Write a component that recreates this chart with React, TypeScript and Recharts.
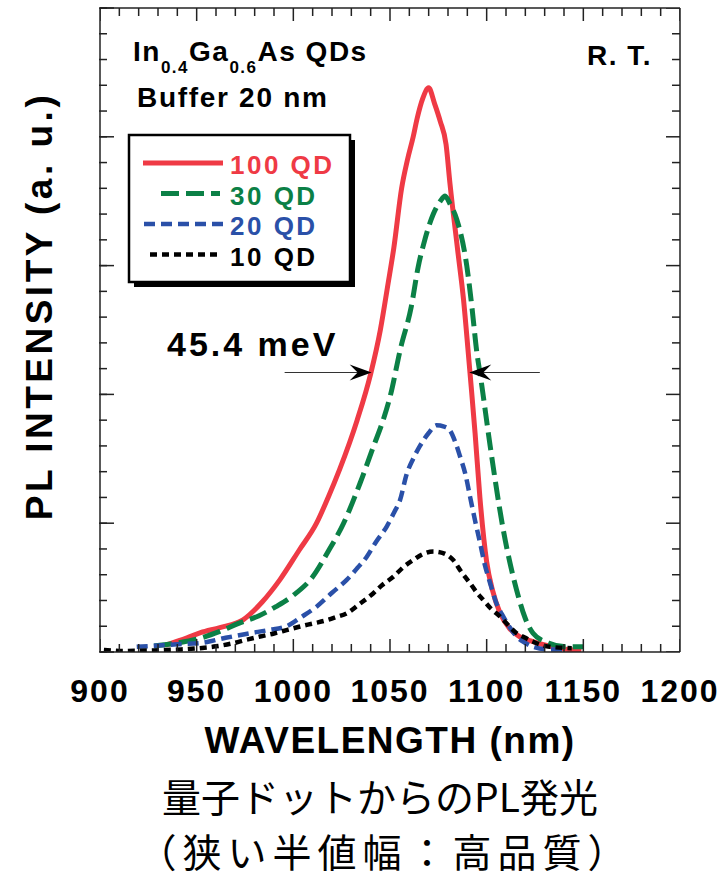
import {
    ComposedChart,
    Customized,
    Legend,
    Line,
    ReferenceLine,
    Scatter,
    XAxis,
    YAxis,
} from "recharts"

const FONT = "'Liberation Sans', Arial, Helvetica, sans-serif"

// tick positions
const xMajorTicks = [900, 950, 1000, 1050, 1100, 1150, 1200]
const xMinorTicks = [
    900, 910, 920, 930, 940, 950, 960, 970, 980, 990, 1000, 1010, 1020, 1030,
    1040, 1050, 1060, 1070, 1080, 1090, 1100, 1110, 1120, 1130, 1140, 1150,
    1160, 1170, 1180, 1190, 1200,
]
const yMajorTicks = [0, 5, 10, 15, 20, 25]
const yMinorTicks = [
    0, 1, 2, 3, 4, 5, 6, 7, 8, 9, 10, 11, 12, 13, 14, 15, 16, 17, 18, 19, 20,
    21, 22, 23, 24, 25,
]

// 100 QD
const qd100Nm = [
    934, 945, 952, 962, 974, 984, 993, 1003, 1012, 1018, 1024, 1033, 1040,
    1045, 1049, 1052, 1056, 1059, 1062, 1064, 1067, 1070, 1073, 1076, 1079,
    1081, 1085, 1088, 1090.5, 1092, 1094, 1096.5, 1100, 1103, 1107, 1112, 1117,
    1124, 1130, 1140, 1149,
]
const qd100Pl = [
    0.27, 0.55, 0.75, 0.95, 1.25, 1.95, 2.8, 3.95, 5.0, 6.0, 7.1, 9.0, 10.8,
    12.5, 14.3, 15.7, 18.0, 19.1, 20.0, 20.7, 21.5, 21.9, 21.3, 20.6, 19.7,
    18.2, 15.6, 13.7, 11.6, 10.3, 8.5, 6.0, 3.5, 2.4, 1.5, 0.9, 0.6, 0.4, 0.27,
    0.12, 0.05,
]

// 30 QD
const qd30Nm = [
    928, 940, 952, 962, 972, 982, 991, 1000, 1010, 1018, 1026, 1034.5, 1041.4,
    1046, 1050, 1055.5, 1061, 1064.6, 1068, 1072.4, 1076, 1078.5, 1081, 1084.5,
    1089.7, 1092.5, 1094.8, 1097, 1101.8, 1108.6, 1115.5, 1120, 1124, 1132,
    1141, 1150,
]
const qd30Pl = [
    0.23, 0.35, 0.54, 0.8, 1.12, 1.4, 1.76, 2.2, 2.92, 3.9, 5.0, 6.55, 7.97,
    8.9, 9.9, 11.8, 13.4, 14.96, 16.0, 17.0, 17.5, 17.7, 17.4, 16.8, 15.0, 13.3,
    11.7, 10.6, 8.0, 4.74, 2.4, 1.3, 0.73, 0.35, 0.2, 0.2,
]

// 20 QD
const qd20Nm = [
    919, 930, 940, 952, 965, 977.6, 987, 996.5, 1004, 1012, 1020, 1027.6, 1033,
    1038, 1043, 1048.3, 1052, 1055.2, 1058.6, 1062, 1065.5, 1070, 1074, 1078,
    1081, 1084, 1086.2, 1089, 1091.4, 1094, 1096.6, 1099, 1101.8, 1105, 1108.6,
    1112, 1115.5, 1120, 1124, 1132, 1140,
]
const qd20Pl = [
    0.2, 0.25, 0.3, 0.35, 0.55, 0.73, 0.85, 1.0, 1.35, 1.76, 2.3, 2.8, 3.25,
    3.7, 4.3, 4.87, 5.4, 5.9, 6.9, 7.5, 8.0, 8.5, 8.8, 8.75, 8.6, 8.1, 7.6, 6.9,
    6.03, 5.1, 4.23, 3.4, 2.67, 1.9, 1.37, 0.95, 0.6, 0.35, 0.2, 0.1, 0.1,
]

// 10 QD
const qd10Nm = [
    902, 912, 920, 928, 934.5, 942, 951.7, 960, 968.8, 976, 982.8, 990, 996.5,
    1003, 1010.3, 1018, 1022, 1027.6, 1034, 1041.4, 1046, 1051.7, 1057, 1062,
    1067, 1072.4, 1077, 1082.7, 1087, 1091.4, 1095, 1098.3, 1102, 1107, 1111,
    1115.5, 1120, 1124, 1132.8, 1144,
]
const qd10Pl = [
    0.08, 0.04, 0.05, 0.06, 0.08, 0.1, 0.15, 0.22, 0.34, 0.48, 0.6, 0.72, 0.85,
    0.98, 1.11, 1.25, 1.35, 1.5, 1.85, 2.28, 2.6, 2.92, 3.3, 3.57, 3.8, 3.9,
    3.85, 3.57, 3.1, 2.67, 2.3, 2.02, 1.7, 1.37, 1.05, 0.73, 0.55, 0.4, 0.2,
    0.15,
]

// FWHM marker: level and arrow start/end wavelengths
const fwhmLevel = 10.85
const fwhmLeftArrow = [995.5, 1040.5]
const fwhmRightArrow = [1127.5, 1091]

const seriesNames = ["100 QD", "30 QD", "20 QD", "10 QD"]

const toPoints = (nm: number[], pl: number[]) =>
    nm.map((w, i) => ({ nm: w, pl: pl[i] }))

const seriesData = [
    toPoints(qd100Nm, qd100Pl),
    toPoints(qd30Nm, qd30Pl),
    toPoints(qd20Nm, qd20Pl),
    toPoints(qd10Nm, qd10Pl),
]

// frame tick anchors on the bottom, top and right edges
const bottomTickPts = xMinorTicks.map((t) => ({ nm: t, pl: 0 }))
const topTickPts = xMinorTicks.map((t) => ({ nm: t, pl: 25 }))
const rightTickPts = yMinorTicks.map((v) => ({ nm: 1200, pl: v }))

const seriesStyle = [
    { color: "#EF3A45", dash: undefined, width: 5, lx: [17, 97] },
    { color: "#0B8046", dash: "18 7", width: 5, lx: [35, 94] },
    { color: "#2A50A8", dash: "11 6", width: 4.5, lx: [18, 97] },
    { color: "#000000", dash: "7 5", width: 4.5, lx: [24, 91] },
]

const AXIS = { stroke: "#222", strokeWidth: 1.5 }
const TICK_COLOR = "#222"

// inward tick mark drawn at the axis edge point (x, y)
const tickMark = (dx: number, dy: number) => (props: any) => {
    const { x, y } = props
    return (
        <line
            x1={x}
            y1={y}
            x2={x + dx}
            y2={y + dy}
            stroke={TICK_COLOR}
            strokeWidth={1.5}
        />
    )
}

// scatter shape: a tick mark pointing into the plot
const frameTick = (dir: "up" | "down" | "left") => (props: any) => {
    const { cx, cy, payload } = props
    if (cx == null || cy == null) return <g />
    let dx = 0
    let dy = 0
    if (dir === "left") {
        dx = yMajorTicks.includes(payload.pl) ? -14 : -8
    } else {
        const len = xMajorTicks.includes(payload.nm) ? 13 : 8
        dy = dir === "up" ? -len : len
    }
    return (
        <line
            x1={cx}
            y1={cy}
            x2={cx + dx}
            y2={cy + dy}
            stroke={TICK_COLOR}
            strokeWidth={1.5}
        />
    )
}

const XTickLabel = (props: any) => {
    const { x, y, payload } = props
    return (
        <text
            x={x}
            y={y + 50}
            textAnchor="middle"
            fontFamily={FONT}
            fontWeight="bold"
            fontSize={32}
            letterSpacing={2}
            fill="#000"
        >
            {payload.value}
        </text>
    )
}

const XTitle = (props: any) => {
    const vb = props.viewBox
    return (
        <text
            x={vb.x + vb.width / 2}
            y={vb.y + 101}
            textAnchor="middle"
            fontFamily={FONT}
            fontWeight="bold"
            fontSize={37}
            letterSpacing={1.5}
            fill="#000"
        >
            WAVELENGTH (nm)
        </text>
    )
}

const YTitle = (props: any) => {
    const vb = props.viewBox
    const cx = vb.x - 47
    const cy = vb.y + vb.height / 2 - 24
    return (
        <text
            x={cx}
            y={cy}
            transform={`rotate(-90 ${cx} ${cy})`}
            textAnchor="middle"
            fontFamily={FONT}
            fontWeight="bold"
            fontSize={37}
            letterSpacing={3.5}
            fill="#000"
        >
            PL INTENSITY (a. u.)
        </text>
    )
}

const Arrow = (props: any) => {
    const { x1, y1, x2, y2 } = props
    const d = x2 > x1 ? 1 : -1
    return (
        <g>
            <line x1={x1} y1={y1} x2={x2 - d * 12} y2={y2} stroke="#333" strokeWidth={1.2} />
            <polygon
                points={`${x2},${y2} ${x2 - d * 22},${y2 - 8} ${x2 - d * 14},${y2} ${x2 - d * 22},${y2 + 8}`}
                fill="#000"
            />
        </g>
    )
}

const LegendBox = () => (
    <svg width={232} height={158}>
        <rect x={8} y={8} width={221} height={147} fill="#000" />
        <rect x={3} y={3} width={221} height={147} fill="#fff" stroke="#000" strokeWidth={2.5} />
        {seriesNames.map((name, i) => {
            const s = seriesStyle[i]
            const ly = 31 + i * 30.5
            return (
                <g key={name}>
                    <line
                        x1={s.lx[0]}
                        x2={s.lx[1]}
                        y1={ly}
                        y2={ly}
                        stroke={s.color}
                        strokeWidth={s.width}
                        strokeDasharray={s.dash}
                    />
                    <text
                        x={104}
                        y={ly + 11}
                        fontFamily={FONT}
                        fontWeight="bold"
                        fontSize={26}
                        letterSpacing={2.5}
                        fill={s.color}
                    >
                        {name}
                    </text>
                </g>
            )
        })}
    </svg>
)

const Annotations = () => (
    <g fontFamily={FONT} fontWeight="bold" fill="#000">
        <text x={133} y={61} fontSize={28} letterSpacing={1.5}>
            In
            <tspan fontSize={17} dy={12}>0.4</tspan>
            <tspan dy={-12}>Ga</tspan>
            <tspan fontSize={17} dy={12}>0.6</tspan>
            <tspan dy={-12}>As QDs</tspan>
        </text>
        <text x={137} y={107} fontSize={28} letterSpacing={1.7}>
            Buffer 20 nm
        </text>
        <text x={587} y={65} fontSize={28} letterSpacing={1.5}>
            R. T.
        </text>
        <text x={167} y={356} fontSize={34} letterSpacing={3}>
            45.4 meV
        </text>
        <text
            x={380}
            y={812}
            textAnchor="middle"
            fontFamily="'Noto Sans CJK JP', sans-serif"
            fontWeight="normal"
            fontSize={39}
        >
            量子ドットからのPL発光
        </text>
        <text
            x={385}
            y={867}
            textAnchor="middle"
            fontFamily="'Noto Sans CJK JP', sans-serif"
            fontWeight="normal"
            fontSize={39}
            letterSpacing={6}
        >
            （狭い半値幅：高品質）
        </text>
    </g>
)

const axisCommon = {
    type: "number" as const,
    allowDataOverflow: true,
    interval: 0 as const,
    tickSize: 0,
    tickMargin: 0,
    tickLine: false,
}

export default function App() {
    return (
        <div
            style={{
                position: "absolute",
                left: 0,
                top: 0,
                width: 727,
                height: 881,
                background: "#fff",
            }}
        >
            <ComposedChart
                width={727}
                height={881}
                margin={{ top: 7, right: 46, bottom: 228, left: 98 }}
            >
                <XAxis
                    {...axisCommon}
                    xAxisId="x"
                    dataKey="nm"
                    domain={[900, 1200]}
                    ticks={xMajorTicks}
                    height={1}
                    tick={<XTickLabel />}
                    axisLine={AXIS}
                    label={{ content: XTitle }}
                />
                <XAxis
                    {...axisCommon}
                    xAxisId="xTop"
                    orientation="top"
                    domain={[900, 1200]}
                    ticks={xMajorTicks}
                    height={1}
                    tick={false}
                    axisLine={AXIS}
                />
                <YAxis
                    {...axisCommon}
                    yAxisId="y"
                    dataKey="pl"
                    domain={[0, 25]}
                    ticks={yMajorTicks}
                    width={1}
                    tick={tickMark(14, 0)}
                    axisLine={AXIS}
                    label={{ content: YTitle }}
                />
                <YAxis
                    {...axisCommon}
                    yAxisId="yMinor"
                    domain={[0, 25]}
                    ticks={yMinorTicks}
                    width={1}
                    tick={tickMark(8, 0)}
                    axisLine={false}
                />
                <YAxis
                    {...axisCommon}
                    yAxisId="yRight"
                    orientation="right"
                    domain={[0, 25]}
                    ticks={yMajorTicks}
                    width={1}
                    tick={false}
                    axisLine={AXIS}
                />
                <Scatter
                    xAxisId="x"
                    yAxisId="y"
                    data={bottomTickPts}
                    dataKey="pl"
                    shape={frameTick("up")}
                    legendType="none"
                    isAnimationActive={false}
                />
                <Scatter
                    xAxisId="x"
                    yAxisId="y"
                    data={topTickPts}
                    dataKey="pl"
                    shape={frameTick("down")}
                    legendType="none"
                    isAnimationActive={false}
                />
                <Scatter
                    xAxisId="x"
                    yAxisId="y"
                    data={rightTickPts}
                    dataKey="pl"
                    shape={frameTick("left")}
                    legendType="none"
                    isAnimationActive={false}
                />
                {seriesNames.map((name, i) => (
                    <Line
                        key={name}
                        name={name}
                        xAxisId="x"
                        yAxisId="y"
                        data={seriesData[i]}
                        dataKey="pl"
                        type="monotone"
                        stroke={seriesStyle[i].color}
                        strokeWidth={seriesStyle[i].width}
                        strokeDasharray={seriesStyle[i].dash}
                        dot={false}
                        activeDot={false}
                        isAnimationActive={false}
                    />
                ))}
                <ReferenceLine
                    xAxisId="x"
                    yAxisId="y"
                    segment={[
                        { x: fwhmLeftArrow[0], y: fwhmLevel },
                        { x: fwhmLeftArrow[1], y: fwhmLevel },
                    ]}
                    shape={Arrow}
                />
                <ReferenceLine
                    xAxisId="x"
                    yAxisId="y"
                    segment={[
                        { x: fwhmRightArrow[0], y: fwhmLevel },
                        { x: fwhmRightArrow[1], y: fwhmLevel },
                    ]}
                    shape={Arrow}
                />
                <Legend
                    layout="vertical"
                    align="center"
                    verticalAlign="middle"
                    wrapperStyle={{ left: 126, top: 132, width: 232, height: 158 }}
                    content={LegendBox}
                />
                <Customized component={Annotations} />
            </ComposedChart>
        </div>
    )
}
